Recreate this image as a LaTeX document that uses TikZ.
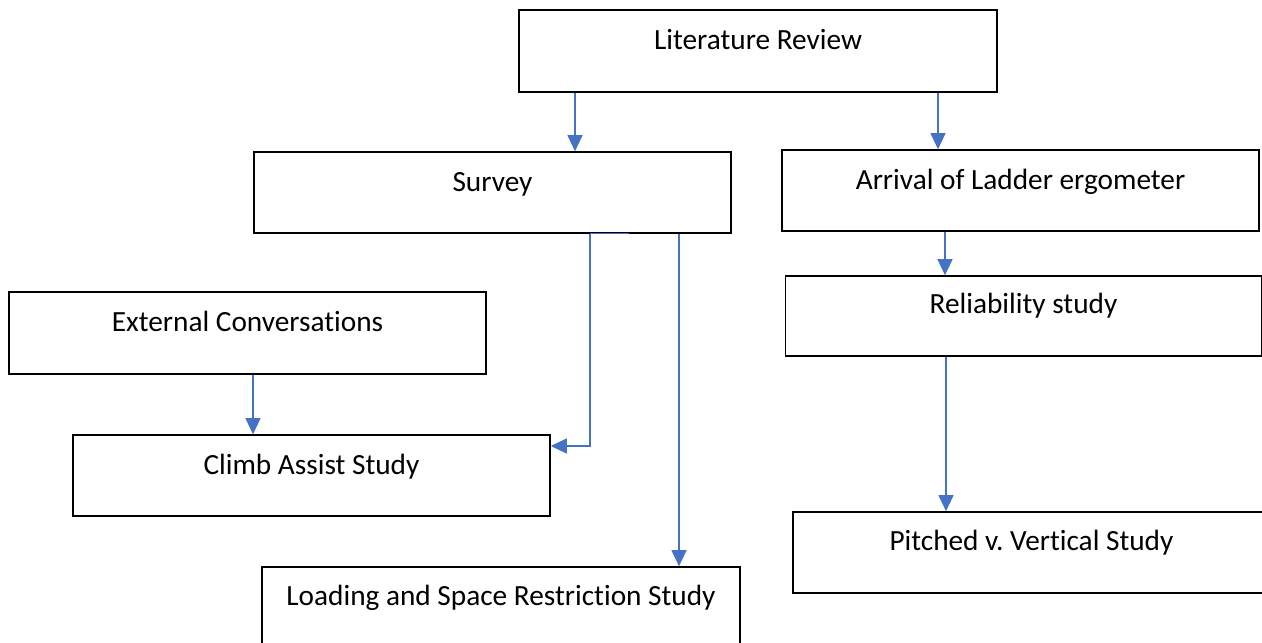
\documentclass[tikz,border=0pt]{standalone}
\usepackage{fontspec}
\setmainfont{Carlito}[Ligatures={NoCommon}]
\usetikzlibrary{arrows.meta}
\definecolor{arrblue}{HTML}{4472C4}
\frenchspacing
\tikzset{
  box/.style={draw=black, line width=1.6pt, rectangle, inner sep=0pt, fill=white},
  lbl/.style={anchor=base, inner sep=0pt, font=\fontsize{29.3}{34}\selectfont},
  arr/.style={draw=arrblue, line width=1.1pt, -{Triangle[width=15pt,length=16pt]}},
  bline/.style={draw=arrblue, line width=1.1pt}
}
\begin{document}
\begin{tikzpicture}[x=1pt,y=-1pt]
\clip (0,0) rectangle (1262,643);
\fill[white] (0,0) rectangle (1262,643);
% boxes
\node[box, minimum width=478pt, minimum height=82pt] (lit) at (758,51) {};
\node[box, minimum width=477pt, minimum height=81pt] (survey) at (492.5,192.5) {};
\node[box, minimum width=477pt, minimum height=81pt] (arrival) at (1020.5,190.5) {};
\node[box, minimum width=477pt, minimum height=82pt] (ext) at (247.5,333) {};
\node[box, minimum width=476pt, minimum height=80pt] (rel) at (1023.5,316) {};
\node[box, minimum width=477pt, minimum height=81pt] (climb) at (311.5,475.5) {};
\node[box, minimum width=477pt, minimum height=81pt] (pitched) at (1031.5,552.5) {};
\node[box, minimum width=478pt, minimum height=81pt] (load) at (501,607.5) {};
% labels
\node[lbl] (litT) at ([yshift=-40pt]lit.north) {Literature Review};
\node[lbl] (surveyT) at ([yshift=-40pt]survey.north) {Survey};
\node[lbl] (arrivalT) at ([yshift=-40pt]arrival.north) {Arrival of Ladder ergometer};
\node[lbl] (extT) at ([yshift=-40pt]ext.north) {External Conversations};
\node[lbl] (relT) at ([yshift=-38pt]rel.north) {Reliability study};
\node[lbl] (climbT) at ([yshift=-40pt]climb.north) {Climb Assist Study};
\node[lbl] (pitchedT) at ([yshift=-39pt]pitched.north) {Pitched v. Vertical Study};
\node[lbl] (loadT) at ([yshift=-39pt]load.north) {Loading and Space Restriction Study};
% connectors
\draw[arr] ([xshift=-183pt]lit.south) -- ([xshift=82.5pt]survey.north);
\draw[arr] ([xshift=180pt]lit.south) -- ([xshift=-82.5pt]arrival.north);
\draw[bline] ([xshift=97.5pt]survey.south) -- ([xshift=136.5pt]survey.south);
\draw[arr] ([xshift=97.5pt]survey.south) |- ([yshift=29.5pt]climb.east);
\draw[arr] ([xshift=186.5pt]survey.south) -- ([xshift=178pt]load.north);
\draw[arr] ([xshift=-75.5pt]arrival.south) -- ([xshift=-78.5pt]rel.north);
\draw[arr] ([xshift=-77.5pt]rel.south) -- ([xshift=-85.5pt]pitched.north);
\draw[arr] ([xshift=5.5pt]ext.south) -- ([xshift=-58.5pt]climb.north);
\end{tikzpicture}
\end{document}
